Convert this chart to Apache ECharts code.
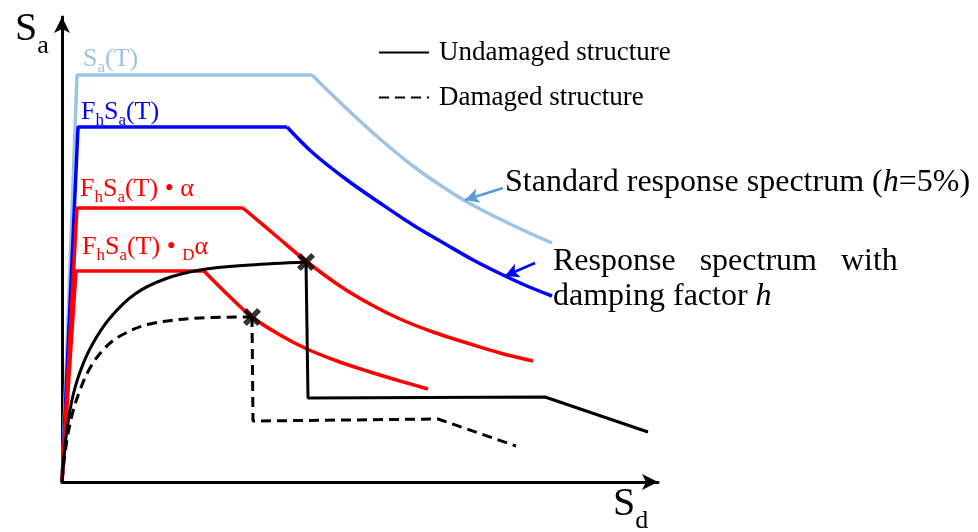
<!DOCTYPE html>
<html>
<head>
<meta charset="utf-8">
<script src="https://cdn.jsdelivr.net/npm/echarts@6/dist/echarts.min.js"></script>
<style>
  html, body { margin: 0; padding: 0; background: #fff; }
  #chart { width: 978px; height: 532px; }
</style>
</head>
<body>
<div id="chart"></div>
<script>
// Sd (x) / Sa (y) in drawing units, origin at the axis corner
const saRise = [[0, 0], [15, 407], [250, 407]]
const saDecay = [[250, 407], [285, 373], [318, 343], [351, 316], [378, 297], [405, 280], [448, 258], [490, 239]]
const fhRise = [[0, 0], [16, 355], [225, 355]]
const fhDecay = [[225, 355], [251, 329], [285, 302], [318, 279], [351, 257], [385, 237], [413, 221], [441, 207], [465, 196], [490, 186]]
const alphaRise = [[0, 0], [15, 274], [181, 274]]
const alphaDecay = [[181, 274], [213, 247], [244, 221], [278, 196], [308, 178], [338, 163], [371, 150], [405, 139], [438, 129], [471, 121]]
const dAlphaRise = [[0, 0], [14, 211], [142, 211]]
const dAlphaDecay = [[142, 211], [166, 187], [190, 165], [218, 147], [245, 133], [275, 121], [305, 111], [338, 101], [366, 93]]
const undamagedCurve = [[0, 0], [2, 27], [5, 52], [10, 82], [18, 110], [30, 137], [48, 164], [73, 188], [103, 203], [138, 212], [188, 217], [244, 220]]
const undamagedDrop = [[244, 220], [246, 84], [483, 85], [586, 50]]
const damagedCurve = [[0, 0], [2, 20], [5, 42], [10, 67], [18, 92], [28, 114], [41, 132], [58, 146], [88, 158], [138, 164], [190, 165]]
const damagedDrop = [[190, 165], [191, 61], [376, 63], [454, 36]]
const performancePoints = [[244, 220], [190, 165]]
const standardArrow = [[441, 294], [403, 282]]
const dampedArrow = [[473, 219], [443, 206]]

const serif = 'Liberation Serif'
const LIGHT = '#9DC3E6'
const BLUE = '#0000FF'
const RED = '#FF0000'

const chart = echarts.init(document.getElementById('chart'))

function labelRich(color) {
    return {
        m: { fontSize: 26, fontFamily: serif, fill: color, verticalAlign: 'bottom', lineHeight: 26, padding: [0, 0, 4, 0] },
        s: { fontSize: 17, fontFamily: serif, fill: color, verticalAlign: 'bottom', lineHeight: 17 },
    }
}

function axisRich(pad) {
    return {
        m: { fontSize: 40, fontFamily: serif, fill: '#000', verticalAlign: 'bottom', lineHeight: 40, padding: [0, 0, pad, 0] },
        s: { fontSize: 26, fontFamily: serif, fill: '#000', verticalAlign: 'bottom', lineHeight: 26 },
    }
}

const noteRich = {
    n: { font: '32px "Liberation Serif"', fill: '#000', lineHeight: 35 },
    i: { font: 'italic 32px "Liberation Serif"', fill: '#000', lineHeight: 35 },
}

function straight(name, data, color, width, type) {
    return {
        name,
        type: 'line',
        data,
        symbol: 'none',
        lineStyle: { color, width, type: type || 'solid' },
        itemStyle: { color },
        z: 3,
    }
}

function curve(name, data, color, width, type) {
    const s = straight(name, data, color, width, type)
    s.smooth = 0.35
    return s
}

function arrow(points, color) {
    return {
        silent: true,
        symbol: ['none', 'arrow'],
        symbolSize: [11, 14],
        label: { show: false },
        lineStyle: { color, width: 2.5, type: 'solid' },
        data: [[{ coord: points[0] }, { coord: points[1] }]],
    }
}

const saDecaySeries = curve('Sa(T)', saDecay, LIGHT, 3.5)
saDecaySeries.markLine = arrow(standardArrow, '#5B9BD5')
const fhDecaySeries = curve('FhSa(T)', fhDecay, BLUE, 3.5)
fhDecaySeries.markLine = arrow(dampedArrow, BLUE)

const option = {
    animation: false,
    backgroundColor: '#fff',
    grid: { left: 62, bottom: 50, width: 596, height: 465 },
    xAxis: {
        type: 'value',
        min: 0,
        max: 596,
        axisLine: { show: true, symbol: ['none', 'arrow'], symbolSize: [12, 16], lineStyle: { color: '#000', width: 3 } },
        axisTick: { show: false },
        axisLabel: { show: false },
        splitLine: { show: false },
    },
    yAxis: {
        type: 'value',
        min: 0,
        max: 465,
        axisLine: { show: true, symbol: ['none', 'arrow'], symbolSize: [12, 16], lineStyle: { color: '#000', width: 3 } },
        axisTick: { show: false },
        axisLabel: { show: false },
        splitLine: { show: false },
    },
    legend: {
        data: ['Undamaged structure', 'Damaged structure'],
        orient: 'vertical',
        left: 373,
        top: 34,
        itemWidth: 50,
        itemHeight: 14,
        itemGap: 18,
        selectedMode: false,
        itemStyle: { color: 'rgba(0,0,0,0)', borderWidth: 0 },
        textStyle: { fontFamily: serif, fontSize: 27, color: '#000', padding: [0, 0, 0, 5] },
    },
    series: [
        straight('Sa(T)', saRise, LIGHT, 3.5),
        saDecaySeries,
        straight('FhSa(T)', fhRise, BLUE, 3.5),
        fhDecaySeries,
        straight('alpha', alphaRise, RED, 3.5),
        curve('alpha', alphaDecay, RED, 3.5),
        straight('Dalpha', dAlphaRise, RED, 3.5),
        curve('Dalpha', dAlphaDecay, RED, 3.5),
        curve('Undamaged structure', undamagedCurve, '#000', 3),
        straight('Undamaged structure', undamagedDrop, '#000', 3),
        curve('Damaged structure', damagedCurve, '#000', 3, [10, 6]),
        straight('Damaged structure', damagedDrop, '#000', 3, [10, 6]),
        {
            name: 'performance',
            type: 'scatter',
            data: performancePoints,
            symbol: 'path://M0,3 L3,0 L7,4 L11,0 L14,3 L10,7 L14,11 L11,14 L7,10 L3,14 L0,11 L4,7 Z',
            symbolSize: 18,
            itemStyle: { color: '#000' },
            z: 5,
        },
    ],
    graphic: [
        { type: 'text', x: 15, y: 19, style: { text: '{m|S}{s|a}', rich: axisRich(10) } },
        { type: 'text', x: 613, y: 494, style: { text: '{m|S}{s|d}', rich: axisRich(10) } },
        { type: 'text', x: 83, y: 50, style: { text: '{m|S}{s|a}{m|(T)}', rich: labelRich(LIGHT) } },
        { type: 'text', x: 81, y: 103, style: { text: '{m|F}{s|h}{m|S}{s|a}{m|(T)}', rich: labelRich(BLUE) } },
        { type: 'text', x: 80, y: 180, style: { text: '{m|F}{s|h}{m|S}{s|a}{m|(T) • α}', rich: labelRich(RED) } },
        { type: 'text', x: 82, y: 238, style: { text: '{m|F}{s|h}{m|S}{s|a}{m|(T) • }{s|D}{m|α}', rich: labelRich(RED) } },
        { type: 'text', x: 505, y: 165, style: { text: '{n|Standard response spectrum (}{i|h}{n|=5%)}', rich: noteRich } },
        { type: 'text', x: 553, y: 244, style: { text: '{n|Response   spectrum   with}\n{n|damping factor }{i|h}', rich: noteRich } },
    ],
}

chart.setOption(option)
</script>
</body>
</html>
